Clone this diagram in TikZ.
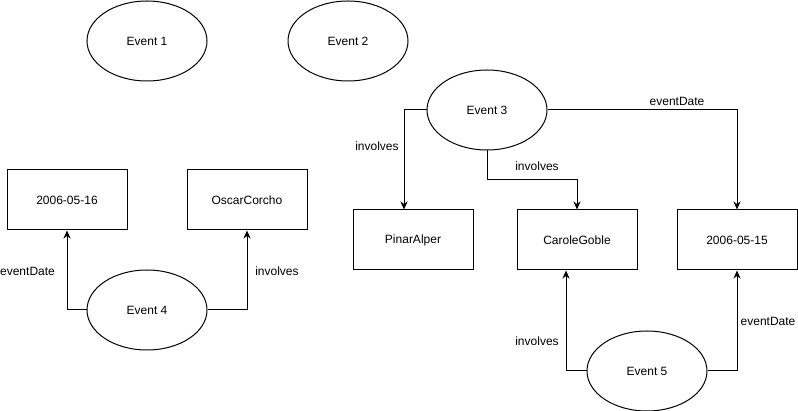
\documentclass[tikz,border=0pt]{standalone}
\usepackage{fontspec}
\setmainfont{Liberation Sans}
\usetikzlibrary{shapes.geometric,arrows.meta}
\begin{document}
\begin{tikzpicture}[x=1pt,y=-1pt,
  ev/.style={draw,ellipse,line width=1pt,minimum width=120pt,minimum height=80pt,inner sep=0pt,font=\fontsize{12}{14}\selectfont},
  box/.style={draw,rectangle,line width=1pt,minimum width=120pt,minimum height=60pt,inner sep=0pt,font=\fontsize{12}{14}\selectfont},
  arr/.style={line width=1pt,-{Stealth[length=8pt,width=7pt,inset=2.5pt]}},
  lbl/.style={inner sep=0pt,font=\fontsize{12}{14}\selectfont}]
\useasboundingbox (0,0) rectangle (798,411);
\node[ev] (e1) at (147,41) {Event 1};
\node[ev] (e2) at (348,41) {Event 2};
\node[ev] (e3) at (487,110) {Event 3};
\node[ev] (e4) at (147,310) {Event 4};
\node[ev] (e5) at (647,371) {Event 5};
\node[box] (d16) at (67,200) {2006-05-16};
\node[box] (oscar) at (247,200) {OscarCorcho};
\node[box] (pinar) at (413,240) {PinarAlper};
\node[box] (carole) at (577,240) {CaroleGoble};
\node[box] (d15) at (737,240) {2006-05-15};
\draw[arr] (e3.west) -| ([xshift=-9pt]pinar.north);
\draw[arr] (e3.south) |- ([yshift=30pt]carole.north) -- (carole.north);
\draw[arr] (e3.east) -| (d15.north);
\draw[arr] (e4.west) -| (d16.south);
\draw[arr] (e4.east) -| (oscar.south);
\draw[arr] (e5.west) -| ([xshift=-11pt]carole.south);
\draw[arr] (e5.east) -| (d15.south);
\node[lbl] (l1) at (377,146) {involves};
\node[lbl] (l2) at (537,166) {involves};
\node[lbl] (l3) at (677,101) {eventDate};
\node[lbl] (l4) at (27.5,271) {eventDate};
\node[lbl] (l5) at (277,271) {involves};
\node[lbl] (l6) at (537,341) {involves};
\node[lbl] (l7) at (768,321) {eventDate};
\end{tikzpicture}
\end{document}
